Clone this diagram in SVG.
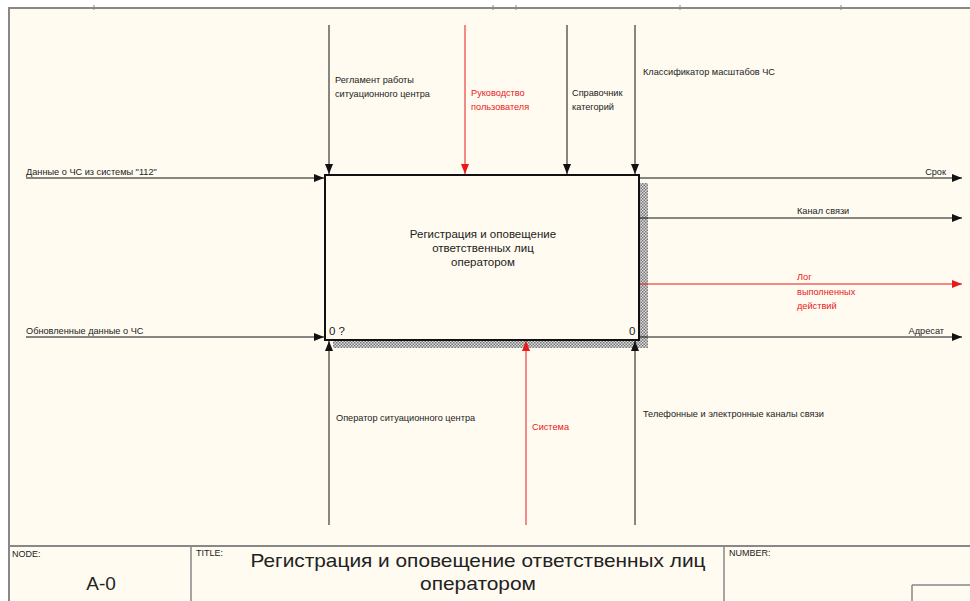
<svg xmlns="http://www.w3.org/2000/svg" width="970" height="601" viewBox="0 0 970 601">
<defs>
<style>
.t{font-family:"Liberation Sans",Arial,sans-serif;font-size:9.2px;fill:#222}
.r{fill:#e8191b}
.ln{stroke:#111;stroke-width:1;fill:none}
.lr{stroke:#e8191b;stroke-width:1;fill:none}
.fr{stroke:#888;stroke-width:2;fill:none}
.bx{font-family:"Liberation Sans",Arial,sans-serif;font-size:11.5px;fill:#222}
.tb{font-family:"Liberation Sans",Arial,sans-serif;font-size:9px;fill:#222}
</style>
<marker id="ab" viewBox="0 0 10 10" refX="10" refY="5" markerWidth="10" markerHeight="10" markerUnits="userSpaceOnUse" orient="auto"><path d="M0,1 L10,5 L0,9 Z" fill="#111"/></marker>
<marker id="ar" viewBox="0 0 10 10" refX="10" refY="5" markerWidth="10" markerHeight="10" markerUnits="userSpaceOnUse" orient="auto"><path d="M0,1 L10,5 L0,9 Z" fill="#e8191b"/></marker>
<pattern id="hatch" width="3" height="3" patternUnits="userSpaceOnUse"><rect width="3" height="3" fill="#ddd"/><rect width="1.5" height="1.5" fill="#777"/><rect x="1.5" y="1.5" width="1.5" height="1.5" fill="#777"/></pattern>
</defs>
<rect width="970" height="601" fill="#ffffff"/>
<rect x="9" y="8" width="961" height="593" fill="#fffbf0"/>
<g id="frame">
<path class="fr" d="M8,8 H970 M9,7 V601"/>
<path stroke="#888" stroke-width="1" d="M94,5 V10 M493,5 V10 M516,5 V10 M680,5 V10 M841,5 V10"/>
<path class="fr" d="M9,546 H970"/>
<path stroke="#888" stroke-width="1.5" d="M191,546 V601 M724,546 V601 M912,585 V601 M912,585 H970"/>
</g>
<g id="titleblock">
<text class="tb" x="12" y="557">NODE:</text>
<text x="101" y="590" font-family="Liberation Sans,Arial,sans-serif" font-size="19" text-anchor="middle" fill="#222">A-0</text>
<text class="tb" x="196" y="556">TITLE:</text>
<text x="478" y="567" font-family="Liberation Sans,Arial,sans-serif" font-size="19" text-anchor="middle" fill="#222" textLength="455" lengthAdjust="spacingAndGlyphs">Регистрация и оповещение ответственных лиц</text>
<text x="478" y="590" font-family="Liberation Sans,Arial,sans-serif" font-size="19" text-anchor="middle" fill="#222" textLength="116" lengthAdjust="spacingAndGlyphs">оператором</text>
<text class="tb" x="729" y="556">NUMBER:</text>
</g>
<g id="A0">
<rect x="640" y="183" width="8" height="165" fill="url(#hatch)"/>
<rect x="333" y="340" width="315" height="8" fill="url(#hatch)"/>
<rect x="325" y="175" width="314" height="165" fill="#fffbf0" stroke="#111" stroke-width="2"/>
<text class="bx" x="483" y="238" text-anchor="middle">Регистрация и оповещение</text>
<text class="bx" x="483" y="252" text-anchor="middle">ответственных лиц</text>
<text class="bx" x="483" y="266" text-anchor="middle">оператором</text>
<text class="bx" x="329" y="335" font-size="10.5">0 ?</text>
<text class="bx" x="629" y="335" font-size="10.5">0</text>
</g>
<g id="connectors">
<path class="ln" d="M26,178 H324" marker-end="url(#ab)"/>
<path class="ln" d="M26,337 H324" marker-end="url(#ab)"/>
<path class="ln" d="M329,25 V174" marker-end="url(#ab)"/>
<path class="lr" d="M465,25 V174" marker-end="url(#ar)"/>
<path class="ln" d="M567,25 V174" marker-end="url(#ab)"/>
<path class="ln" d="M635,25 V174" marker-end="url(#ab)"/>
<path class="ln" d="M640,178 H962" marker-end="url(#ab)"/>
<path class="ln" d="M640,218 H962" marker-end="url(#ab)"/>
<path class="lr" d="M640,284 H962" marker-end="url(#ar)"/>
<path class="ln" d="M640,337 H962" marker-end="url(#ab)"/>
<path class="ln" d="M329,525 V341" marker-end="url(#ab)"/>
<path class="lr" d="M526,525 V341" marker-end="url(#ar)"/>
<path class="ln" d="M635,525 V341" marker-end="url(#ab)"/>
</g>
<g id="labels">
<text class="t" x="26" y="175">Данные о ЧС из системы "112"</text>
<text class="t" x="26" y="334">Обновленные данные о ЧС</text>
<text class="t" x="335" y="83">Регламент работы</text>
<text class="t" x="335" y="97">ситуационного центра</text>
<text class="t r" x="471" y="96">Руководство</text>
<text class="t r" x="471" y="110">пользователя</text>
<text class="t" x="572" y="96">Справочник</text>
<text class="t" x="572" y="110">категорий</text>
<text class="t" x="643" y="75">Классификатор масштабов ЧС</text>
<text class="t" x="946" y="175" text-anchor="end">Срок</text>
<text class="t" x="797" y="214">Канал связи</text>
<text class="t r" x="797" y="280">Лог</text>
<text class="t r" x="797" y="295">выполненных</text>
<text class="t r" x="797" y="309">действий</text>
<text class="t" x="944" y="334" text-anchor="end">Адресат</text>
<text class="t" x="336" y="421">Оператор ситуационного центра</text>
<text class="t r" x="532" y="430">Система</text>
<text class="t" x="643" y="417">Телефонные и электронные каналы связи</text>
</g>
</svg>
